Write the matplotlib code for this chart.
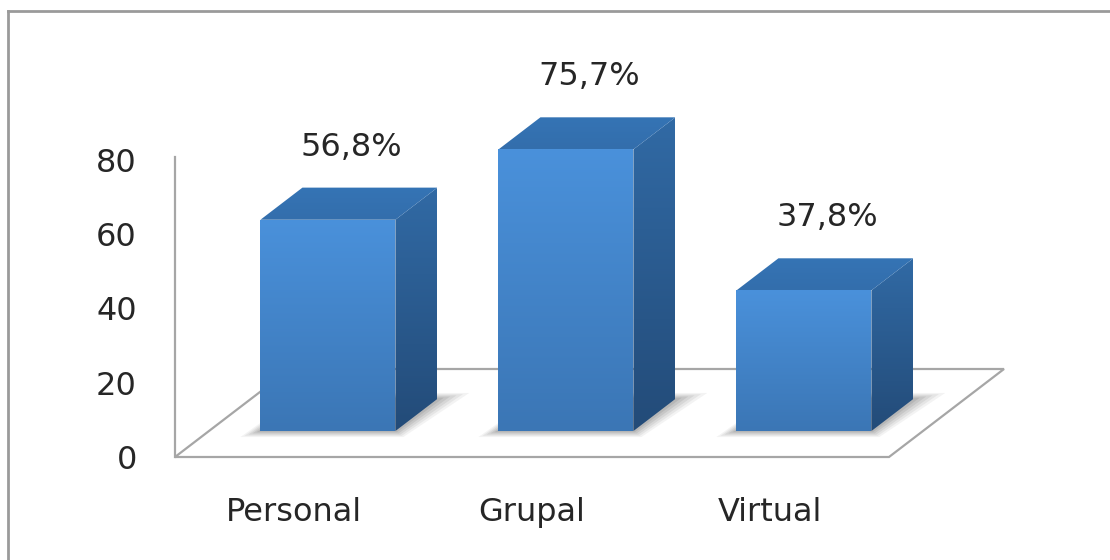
import numpy as np
import matplotlib.pyplot as plt
import matplotlib.colors as mcolors
from matplotlib.patches import Polygon
from matplotlib.lines import Line2D

categories = ['Personal', 'Grupal', 'Virtual']
values = [56.8, 75.7, 37.8]
value_labels = ['56,8%', '75,7%', '37,8%']
yticks = [0, 20, 40, 60, 80]

# picture geometry in pixels (Excel style 3D columns)
W, H = 1110, 560
PX_X = 238.0        # pixels per category step
PX_Y = 3.72         # pixels per value unit
X0, Y0 = 294, 457   # front floor edge: category 0, value 0
BAR_W = 0.567       # bar width in category units
F_FRONT, F_BACK = 0.295, 0.66   # bar front/back as a fraction of floor depth
TXT = '#262626'

fig = plt.figure(figsize=(W / 100, H / 100), dpi=100)
ax = fig.add_axes([0, 0, 1, 1])
ax.axis('off')


def depth(f):
    # shift for depth fraction f of the floor, in data units
    return f * 115 / PX_X, f * 88 / PX_Y


def grad_poly(pts, c_top, c_bot, z):
    poly = Polygon(pts, closed=True, facecolor='none', edgecolor='none', zorder=z)
    ax.add_patch(poly)
    xs = [p[0] for p in pts]
    ys = [p[1] for p in pts]
    g = np.linspace(0, 1, 256)[:, None, None]
    img = np.array(mcolors.to_rgb(c_top)) * (1 - g) + np.array(mcolors.to_rgb(c_bot)) * g
    im = ax.imshow(img, extent=(min(xs), max(xs), min(ys), max(ys)), origin='upper',
                   aspect='auto', zorder=z, interpolation='bilinear')
    im.set_clip_path(poly)


# floor
dX, dY = depth(1.0)
left, right = -0.5, len(categories) - 0.5
floor = [(left, 0), (right, 0), (right + dX, dY), (left + dX, dY)]
ax.add_patch(Polygon(floor, closed=True, facecolor='white', edgecolor='#a6a6a6',
                     lw=1.6, zorder=1))
# value axis line
ax.plot([left, left], [0, yticks[-1] + 0.6], color='#a6a6a6', lw=1.6, zorder=1)

for t in yticks:
    ax.text(-0.66, t - 1, str(t), ha='right', va='center', fontsize=23,
            color=TXT, zorder=5)

fx, fy = depth(F_FRONT)
bx, by = depth(F_BACK)
px, py = 1 / PX_X, 1 / PX_Y
for i, (v, lab) in enumerate(zip(values, value_labels)):
    xl = i - BAR_W / 2 + fx
    xr = i + BAR_W / 2 + fx
    # soft shadow on the floor
    for s, a in zip([1.0, 0.8, 0.6, 0.4, 0.2], [0.07, 0.09, 0.11, 0.13, 0.15]):
        sh = [(xl - 20 * s * px, fy - 6 * s * py), (xr + 8 * s * px, fy - 6 * s * py),
              (xr + bx - fx + 32 * s * px, by + 6 * s * py), (xl + bx - fx, by + 6 * s * py)]
        ax.add_patch(Polygon(sh, closed=True, facecolor='#5f5f5f', edgecolor='none',
                             alpha=a, zorder=2))
    front = [(xl, fy), (xr, fy), (xr, fy + v), (xl, fy + v)]
    side = [(xr, fy), (xr + bx - fx, by), (xr + bx - fx, by + v), (xr, fy + v)]
    top = [(xl, fy + v), (xr, fy + v), (xr + bx - fx, by + v), (xl + bx - fx, by + v)]
    grad_poly(side, '#316aa5', '#234b78', 3)
    grad_poly(top, '#3574b5', '#336eac', 3)
    grad_poly(front, '#4a91db', '#3b76b5', 4)
    ax.text(i + 0.24, v + 26.5, lab, ha='center', va='center', fontsize=23,
            color=TXT, zorder=5)
    ax.text(i, -15, categories[i], ha='center', va='center', fontsize=23,
            color=TXT, zorder=5)

ax.set_xlim(-X0 / PX_X, (W - X0) / PX_X)
ax.set_ylim(-(H - Y0) / PX_Y, Y0 / PX_Y)

# chart area border (cut at right and bottom in the picture)
fig.add_artist(Line2D([8 / W, 8 / W], [0, 1 - 11 / H], color='#9a9a9a', lw=2))
fig.add_artist(Line2D([8 / W, 1], [1 - 11 / H, 1 - 11 / H], color='#9a9a9a', lw=2))

fig.savefig('out.png', dpi=100)
